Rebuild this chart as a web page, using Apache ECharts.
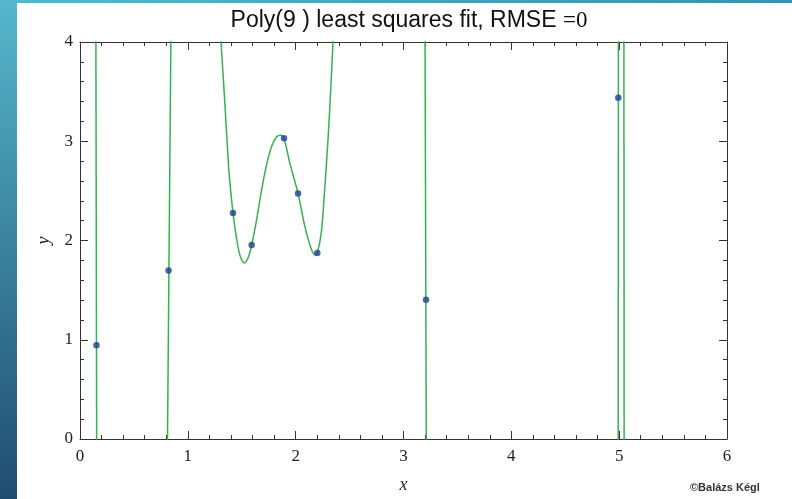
<!DOCTYPE html>
<html><head><meta charset="utf-8">
<script src="https://cdn.jsdelivr.net/npm/echarts@6/dist/echarts.min.js"></script>
<style>html,body{margin:0;padding:0;background:#fff}#c{width:792px;height:499px}</style>
</head><body><div id="c"></div>
<script>
// data points
const pointX = [0.153, 0.821, 1.419, 1.592, 1.892, 2.022, 2.201, 3.209, 4.992];
const pointY = [0.945, 1.697, 2.276, 1.955, 3.031, 2.473, 1.875, 1.404, 3.439];
// fitted curve, visible pieces (values beyond 0..4 are clipped)
const curve1 = [[0.147, 4.3], [0.155, -0.3]];
const curve2 = [[0.809, -0.3], [0.845, 4.3]];
const curve3 = [[1.290, 4.3], [1.308, 4.0], [1.326, 3.686], [1.345, 3.351], [1.363, 3.018], [1.382, 2.684],
  [1.419, 2.276], [1.453, 2.015], [1.484, 1.848], [1.524, 1.774], [1.561, 1.832], [1.592, 1.955],
  [1.639, 2.216], [1.685, 2.516], [1.731, 2.767], [1.778, 2.950], [1.824, 3.045], [1.864, 3.061],
  [1.892, 3.031], [1.945, 2.784], [2.022, 2.473], [2.084, 2.148], [2.145, 1.915], [2.182, 1.855],
  [2.201, 1.875], [2.238, 2.082], [2.269, 2.516], [2.300, 3.018], [2.325, 3.519], [2.346, 3.987], [2.360, 4.3]];
const curve4 = [[3.199, 4.3], [3.212, -0.3]];
const curve5 = [[4.991, -0.3], [4.993, 4.3]];
const curve6 = [[5.044, 4.3], [5.046, -0.3]];
const xTicks = ['0', '1', '2', '3', '4', '5', '6'];
const yTicks = ['0', '1', '2', '3', '4'];

const chart = echarts.init(document.getElementById('c'), null, {renderer: 'canvas'});
const serif = '"Liberation Serif", "DejaVu Serif", serif';
const frame = {show: true, onZero: false, lineStyle: {color: '#333', width: 1}};
const lab = {color: '#222', fontFamily: serif, fontSize: 17};
function axisBase(extra) {
  return Object.assign({
    type: 'value', interval: 1, splitLine: {show: false},
    axisLine: frame,
    axisTick: {show: true, inside: true, length: 8, lineStyle: {color: '#333'}},
    minorTick: {show: true, splitNumber: 5, length: 4, lineStyle: {color: '#333'}},
  }, extra);
}
const curveStyle = {type: 'line', showSymbol: false, symbol: 'none', smooth: 0.3, clip: true,
  lineStyle: {color: '#36b152', width: 1.5}, z: 2, silent: true};
const curves = [curve1, curve2, curve3, curve4, curve5, curve6].map(d => Object.assign({data: d}, curveStyle));

chart.setOption({
  animation: false,
  backgroundColor: '#fff',
  title: {
    text: '{a|Poly(9 ) least squares fit, RMSE }{b|=0}',
    left: 404, top: 4, textAlign: 'center',
    textStyle: {fontWeight: 'normal', rich: {
      a: {fontFamily: '"Liberation Sans", Arial, sans-serif', fontSize: 23, fontWeight: 'normal', color: '#111'},
      b: {fontFamily: serif, fontSize: 23, fontWeight: 'normal', color: '#111'}
    }}
  },
  graphic: [
    {type: 'rect', left: 0, top: 0, shape: {width: 17, height: 499}, z: -10,
     style: {fill: new echarts.graphic.LinearGradient(0, 0, 0, 1, [{offset: 0, color: '#55b7cd'}, {offset: 1, color: '#1f4c72'}])}},
    {type: 'rect', left: 0, top: 0, shape: {width: 792, height: 3}, z: -9,
     style: {fill: new echarts.graphic.LinearGradient(0, 0, 1, 0, [{offset: 0, color: '#55b7cd'}, {offset: 1, color: '#3c8fb0'}])}},
    {type: 'text', left: 690, top: 482, z: 10,
     style: {text: '©Balázs Kégl', font: 'bold 11px "Liberation Sans", Arial, sans-serif', fill: '#333'}}
  ],
  grid: {left: 80, right: 65, top: 42, bottom: 58, containLabel: false},
  xAxis: [
    axisBase({min: 0, max: 6, position: 'bottom',
      axisLabel: Object.assign({margin: 9, formatter: v => xTicks[Math.round(v)]}, lab),
      name: 'x', nameLocation: 'middle', nameGap: 37,
      nameTextStyle: {fontFamily: serif, fontStyle: 'italic', fontSize: 18, color: '#222'}}),
    axisBase({min: 0, max: 6, position: 'top', axisLabel: {show: false}})
  ],
  yAxis: [
    axisBase({min: 0, max: 4, position: 'left',
      axisLabel: Object.assign({margin: 7, formatter: v => yTicks[Math.round(v)]}, lab),
      name: 'y', nameLocation: 'middle', nameGap: 24,
      nameTextStyle: {fontFamily: serif, fontStyle: 'italic', fontSize: 18, color: '#222'}}),
    axisBase({min: 0, max: 4, position: 'right', axisLabel: {show: false}})
  ],
  series: curves.concat([{
    type: 'scatter', data: pointX.map((x, i) => [x, pointY[i]]), symbolSize: 6.5,
    itemStyle: {color: '#1f3f8f'}, z: 5, silent: true
  }])
});
</script></body></html>
